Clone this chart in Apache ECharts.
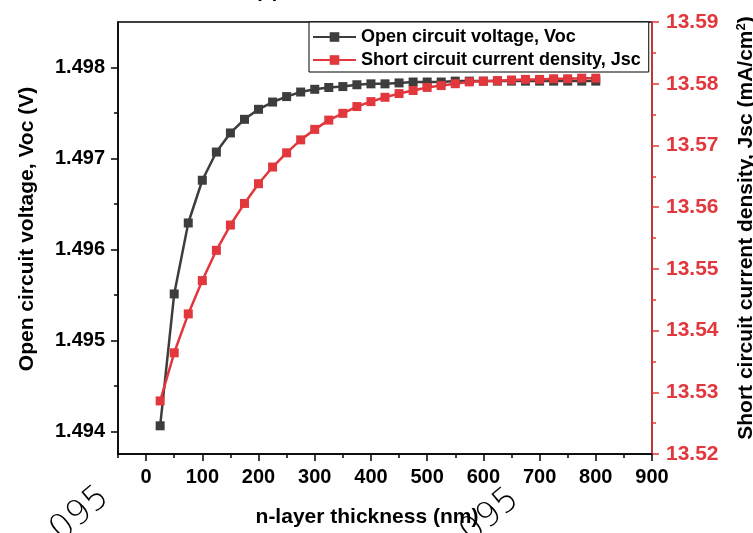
<!DOCTYPE html>
<html>
<head>
<meta charset="utf-8">
<script src="https://cdn.jsdelivr.net/npm/echarts@6/dist/echarts.min.js"></script>
<style>
html, body { margin: 0; padding: 0; background: #fff; }
#chart { width: 753px; height: 533px; }
</style>
</head>
<body>
<div id="chart"></div>
<script>
// n-layer thickness (nm)
const thickness = [25, 50, 75, 100, 125, 150, 175, 200, 225, 250, 275, 300, 325, 350, 375, 400,
	425, 450, 475, 500, 525, 550, 575, 600, 625, 650, 675, 700, 725, 750, 775, 800];
// Voc (V)
const vocValues = [1.49406, 1.49551, 1.49629, 1.49676, 1.49707, 1.49728, 1.49743, 1.49754,
	1.49762, 1.49768, 1.49773, 1.49776, 1.49778, 1.49779, 1.49781, 1.49782,
	1.49782, 1.49783, 1.49784, 1.49784, 1.49784, 1.49785, 1.49785, 1.49785,
	1.49785, 1.49785, 1.49785, 1.49785, 1.49785, 1.49785, 1.49785, 1.49785];
// Jsc (mA/cm2)
const jscValues = [13.5286, 13.5364, 13.5427, 13.5481, 13.5530, 13.5571, 13.5606, 13.5638,
	13.5665, 13.5688, 13.5709, 13.5726, 13.5741, 13.5752, 13.5763, 13.5771,
	13.5778, 13.5784, 13.5789, 13.5794, 13.5797, 13.5800, 13.5803, 13.5804,
	13.5805, 13.5806, 13.5807, 13.5807, 13.5808, 13.5808, 13.5809, 13.5809];

const xTicks = [0, 100, 200, 300, 400, 500, 600, 700, 800, 900];
const xMinorTicks = [-50, 50, 150, 250, 350, 450, 550, 650, 750, 850];
const vocTicks = [1.494, 1.495, 1.496, 1.497, 1.498];
const vocMinorTicks = [1.4945, 1.4955, 1.4965, 1.4975];
const jscTicks = [13.52, 13.53, 13.54, 13.55, 13.56, 13.57, 13.58, 13.59];
const jscMinorTicks = [13.525, 13.535, 13.545, 13.555, 13.565, 13.575, 13.585];

const FONT = 'Liberation Sans';
const RED = '#e2373d';
const DARK = '#3d3d3d';

const chart = echarts.init(document.getElementById('chart'));

const xRange = { min: -50, max: 900 };
const vocRange = { min: 1.49375, max: 1.4985 };
const jscRange = { min: 13.52, max: 13.59 };

const option = {
	animation: false,
	grid: {
		left: 118,
		right: 101,
		top: 22,
		bottom: 79,
		outerBoundsMode: 'none',
		containLabel: false,
		show: true,
		borderColor: '#000',
		borderWidth: 1.5,
	},
	legend: {
		left: 309,
		top: 22,
		orient: 'vertical',
		backgroundColor: '#fff',
		borderColor: '#000',
		borderWidth: 1,
		padding: [6, 8, 3, 3],
		itemWidth: 43,
		itemHeight: 12,
		itemGap: 5,
		textStyle: {
			fontFamily: FONT,
			fontWeight: 'bold',
			fontSize: 18,
			lineHeight: 18,
			color: '#000',
		},
	},
	graphic: [
		{ type: 'text', left: 255, top: -19, style: { text: '(a)', font: 'bold 20px Liberation Sans', fill: '#000' } },
		{ type: 'text', x: 80, y: 514, rotation: 0.7,
			style: { text: '095', font: '200 34px DejaVu Sans', fill: '#000', align: 'center', verticalAlign: 'middle' } },
		{ type: 'text', x: 490, y: 516, rotation: 0.7,
			style: { text: '095', font: '200 34px DejaVu Sans', fill: '#000', align: 'center', verticalAlign: 'middle' } },
	],
	xAxis: [
		{
			type: 'value',
			min: xRange.min,
			max: xRange.max,
			name: 'n-layer thickness (nm)',
			nameLocation: 'middle',
			nameGap: 53,
			nameMoveOverlap: false,
			nameTextStyle: {
				fontFamily: FONT,
				fontWeight: 'bold',
				fontSize: 21,
				color: '#000',
				padding: [0, 36, 0, 0],
			},
			axisLine: { show: true, onZero: false, lineStyle: { color: '#000', width: 1.5 } },
			axisTick: { show: true, length: 7, lineStyle: { color: '#000', width: 1.5 }, customValues: xTicks },
			axisLabel: {
				customValues: xTicks,
				margin: 13,
				fontFamily: FONT,
				fontWeight: 'bold',
				fontSize: 20,
				color: '#000',
			},
			splitLine: { show: false },
		},
		{
			type: 'value',
			min: xRange.min,
			max: xRange.max,
			position: 'bottom',
			axisLine: { show: false, onZero: false },
			axisTick: { show: true, length: 4, lineStyle: { color: '#000', width: 1.5 }, customValues: xMinorTicks },
			axisLabel: { show: false },
			splitLine: { show: false },
		},
	],
	yAxis: [
		{
			type: 'value',
			position: 'left',
			min: vocRange.min,
			max: vocRange.max,
			name: 'Open circuit voltage, Voc (V)',
			nameLocation: 'middle',
			nameRotate: 90,
			nameGap: 80,
			nameMoveOverlap: false,
			nameTextStyle: {
				fontFamily: FONT,
				fontWeight: 'bold',
				fontSize: 21,
				color: '#000',
				padding: [0, 0, 0, 18],
			},
			axisLine: { show: true, onZero: false, lineStyle: { color: '#000', width: 1.5 } },
			axisTick: { show: true, length: 7, lineStyle: { color: '#000', width: 1.5 }, customValues: vocTicks },
			axisLabel: {
				customValues: vocTicks,
				margin: 13,
				fontFamily: FONT,
				fontWeight: 'bold',
				fontSize: 20,
				color: '#000',
				formatter: (v) => v.toFixed(3),
			},
			splitLine: { show: false },
		},
		{
			type: 'value',
			position: 'right',
			min: jscRange.min,
			max: jscRange.max,
			name: '{a|Short circuit current density, Jsc (mA/cm}{s|2}{a|)}',
			nameLocation: 'middle',
			nameRotate: 90,
			nameGap: 83,
			nameMoveOverlap: false,
			nameTextStyle: {
				padding: [0, 0, 0, 20],
				rich: {
					a: { fontFamily: FONT, fontWeight: 'bold', fontSize: 21, color: '#000' },
					s: { fontFamily: FONT, fontWeight: 'bold', fontSize: 13, color: '#000', verticalAlign: 'top', padding: [0, 0, 10, 0] },
				},
			},
			axisLine: { show: true, onZero: false, lineStyle: { color: RED, width: 1.5 } },
			axisTick: { show: true, length: 7, lineStyle: { color: RED, width: 1.5 }, customValues: jscTicks },
			axisLabel: {
				customValues: jscTicks,
				margin: 14,
				fontFamily: FONT,
				fontWeight: 'bold',
				fontSize: 21,
				color: RED,
				formatter: (v) => v.toFixed(2),
			},
			splitLine: { show: false },
		},
		{
			type: 'value',
			position: 'left',
			min: vocRange.min,
			max: vocRange.max,
			axisLine: { show: false, onZero: false },
			axisTick: { show: true, length: 4, lineStyle: { color: '#000', width: 1.5 }, customValues: vocMinorTicks },
			axisLabel: { show: false },
			splitLine: { show: false },
		},
		{
			type: 'value',
			position: 'right',
			min: jscRange.min,
			max: jscRange.max,
			axisLine: { show: false, onZero: false },
			axisTick: { show: true, length: 4, lineStyle: { color: RED, width: 1.5 }, customValues: jscMinorTicks },
			axisLabel: { show: false },
			splitLine: { show: false },
		},
	],
	series: [
		{
			name: 'Open circuit voltage, Voc',
			type: 'line',
			yAxisIndex: 0,
			data: thickness.map((t, i) => [t, vocValues[i]]),
			symbol: 'rect',
			symbolSize: 9,
			lineStyle: { color: DARK, width: 2.5 },
			itemStyle: { color: DARK },
		},
		{
			name: 'Short circuit current density, Jsc',
			type: 'line',
			yAxisIndex: 1,
			data: thickness.map((t, i) => [t, jscValues[i]]),
			symbol: 'rect',
			symbolSize: 9,
			lineStyle: { color: RED, width: 2.5 },
			itemStyle: { color: RED },
		},
	],
};

chart.setOption(option);
</script>
</body>
</html>
